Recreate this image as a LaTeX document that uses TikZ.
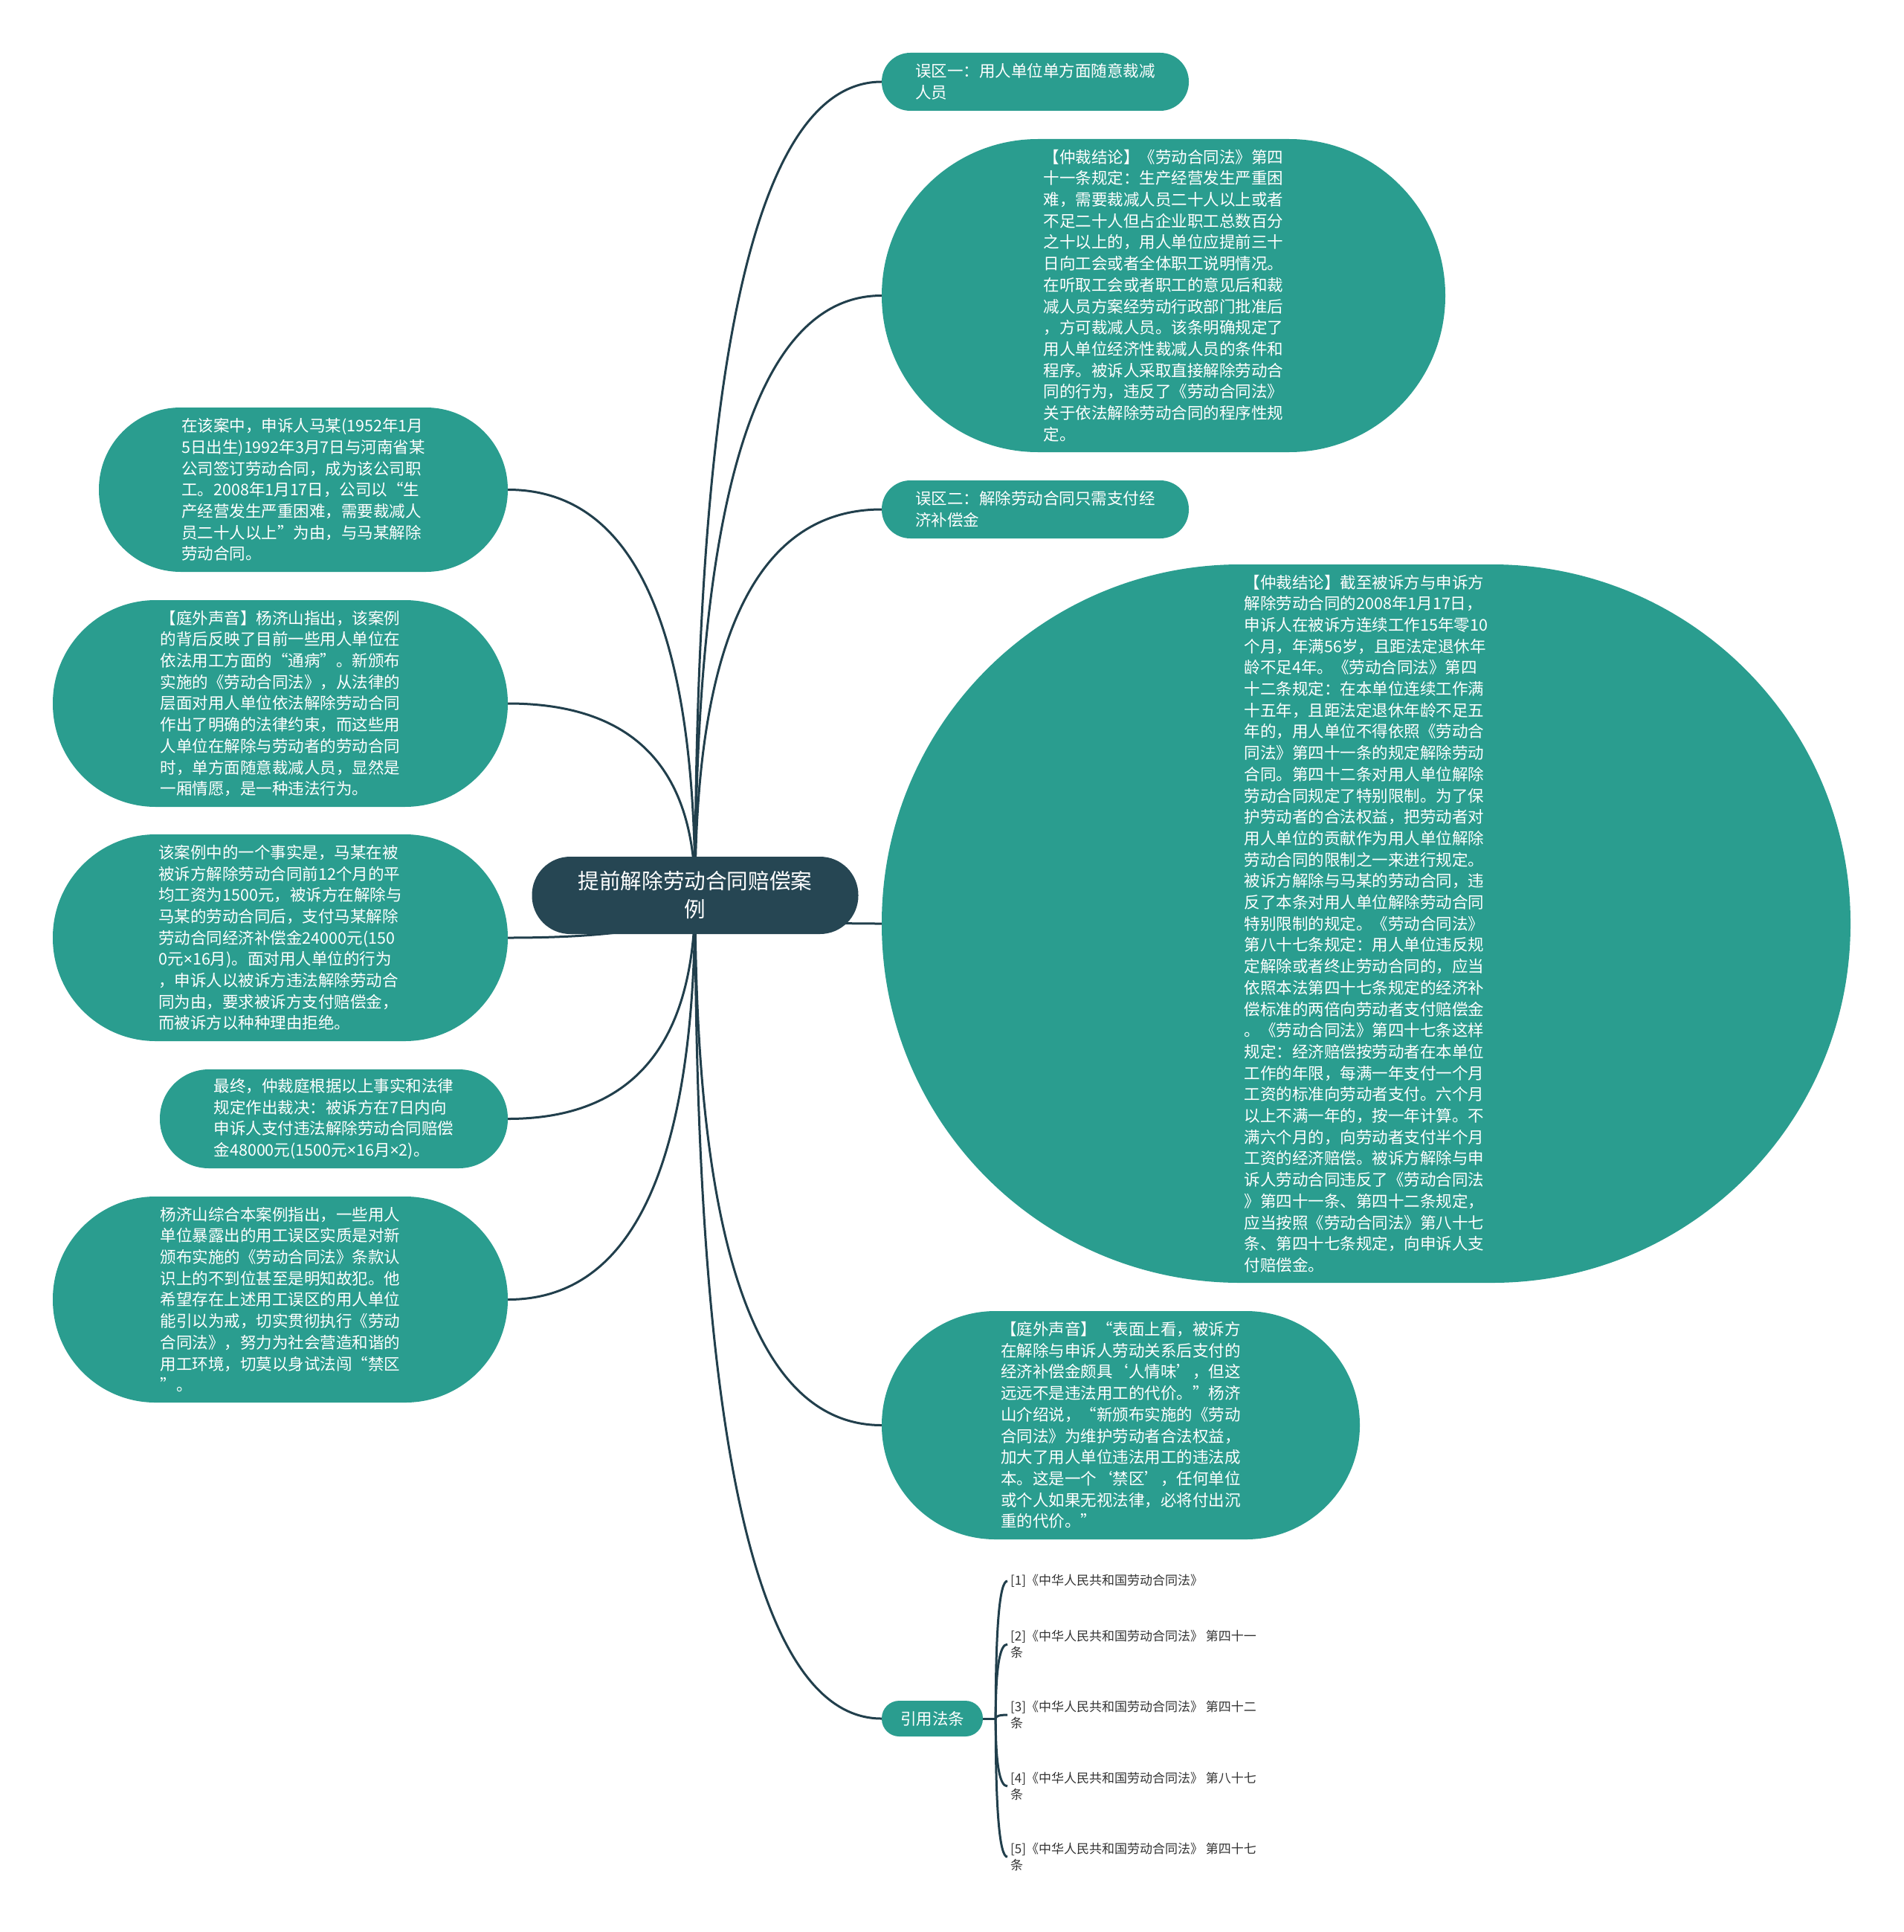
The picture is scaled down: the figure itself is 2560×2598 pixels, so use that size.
\documentclass[tikz,border=0pt]{standalone}
\usepackage{fontspec}
\newfontfamily\cjk{Noto Sans CJK SC}
\newfontfamily\latin{Noto Sans}
\usepackage{tikz}
\usetikzlibrary{positioning, calc, backgrounds}
\definecolor{RootSlate}{HTML}{264653}
\definecolor{NoteTeal}{HTML}{2A9D8F}
\definecolor{LinkSlate}{HTML}{213F4C}
\definecolor{CiteGray}{HTML}{333333}
\newcommand{\mul}{{\latin ×}}
\tikzset{
  % Box styles
  rootbox/.style={rectangle, fill=RootSlate, text=white, font=\cjk\fontsize{28.6}{38}\selectfont, align=center, inner sep=0pt},
  notebox/.style={rectangle, fill=NoteTeal, text=white, font=\cjk\fontsize{21.5}{28.7}\selectfont, align=left, inner sep=0pt},
  citetext/.style={anchor=west, inner sep=0pt, text=CiteGray, font=\cjk\fontsize{17}{21.7}\selectfont, align=left},
  % Connector styles
  branch/.style={draw=LinkSlate, line width=3pt, to path={.. controls ($(\tikztostart)!0.667!(\tikztostart |- \tikztotarget)$) and ($(\tikztotarget)!0.667!(\tikztostart |- \tikztotarget)$) .. (\tikztotarget)}}
}

\begin{document}
\begin{tikzpicture}[x=1pt, y=-1pt]
  \useasboundingbox (0,0) rectangle (2560,2598);

  % Central topic
  \node[rootbox, minimum width=439pt, minimum height=104pt, rounded corners=51.5pt] (root) at (935,1204) {提前解除劳动合同赔偿案\\例};

  % Right side
  \node[notebox, minimum width=413pt, minimum height=78pt, rounded corners=38.5pt] (myth1) at (1392.5,110) {误区一：用人单位单方面随意裁减\\人员};
  \node[notebox, minimum width=758pt, minimum height=421pt, rounded corners=210pt] (ruling1) at (1565,397.5) {【仲裁结论】《劳动合同法》第四\\十一条规定：生产经营发生严重困\\难，需要裁减人员二十人以上或者\\不足二十人但占企业职工总数百分\\之十以上的，用人单位应提前三十\\日向工会或者全体职工说明情况。\\在听取工会或者职工的意见后和裁\\减人员方案经劳动行政部门批准后\\，方可裁减人员。该条明确规定了\\用人单位经济性裁减人员的条件和\\程序。被诉人采取直接解除劳动合\\同的行为，违反了《劳动合同法》\\关于依法解除劳动合同的程序性规\\定。};
  \node[notebox, minimum width=413pt, minimum height=78pt, rounded corners=38.5pt] (myth2) at (1392.5,685) {误区二：解除劳动合同只需支付经\\济补偿金};
  \node[notebox, minimum width=1303pt, minimum height=966pt, rounded corners=482pt] (ruling2) at (1837.5,1242) {【仲裁结论】截至被诉方与申诉方\\解除劳动合同的2008年1月17日，\\申诉人在被诉方连续工作15年零10\\个月，年满56岁，且距法定退休年\\龄不足4年。《劳动合同法》第四\\十二条规定：在本单位连续工作满\\十五年，且距法定退休年龄不足五\\年的，用人单位不得依照《劳动合\\同法》第四十一条的规定解除劳动\\合同。第四十二条对用人单位解除\\劳动合同规定了特别限制。为了保\\护劳动者的合法权益，把劳动者对\\用人单位的贡献作为用人单位解除\\劳动合同的限制之一来进行规定。\\被诉方解除与马某的劳动合同，违\\反了本条对用人单位解除劳动合同\\特别限制的规定。《劳动合同法》\\第八十七条规定：用人单位违反规\\定解除或者终止劳动合同的，应当\\依照本法第四十七条规定的经济补\\偿标准的两倍向劳动者支付赔偿金\\。《劳动合同法》第四十七条这样\\规定：经济赔偿按劳动者在本单位\\工作的年限，每满一年支付一个月\\工资的标准向劳动者支付。六个月\\以上不满一年的，按一年计算。不\\满六个月的，向劳动者支付半个月\\工资的经济赔偿。被诉方解除与申\\诉人劳动合同违反了《劳动合同法\\》第四十一条、第四十二条规定，\\应当按照《劳动合同法》第八十七\\条、第四十七条规定，向申诉人支\\付赔偿金。};
  \node[notebox, minimum width=643pt, minimum height=307pt, rounded corners=153pt] (voice2) at (1507.5,1916.5) {【庭外声音】“表面上看，被诉方\\在解除与申诉人劳动关系后支付的\\经济补偿金颇具‘人情味’，但这\\远远不是违法用工的代价。”杨济\\山介绍说，“新颁布实施的《劳动\\合同法》为维护劳动者合法权益，\\加大了用人单位违法用工的违法成\\本。这是一个‘禁区’，任何单位\\或个人如果无视法律，必将付出沉\\重的代价。”};
  \node[notebox, minimum width=136pt, minimum height=48pt, rounded corners=23.5pt, align=center] (laws) at (1254,2311) {引用法条};

  % Left side
  \node[notebox, minimum width=550pt, minimum height=221pt, rounded corners=110pt] (facts) at (408,658.5) {在该案中，申诉人马某(1952年1月\\5日出生)1992年3月7日与河南省某\\公司签订劳动合同，成为该公司职\\工。2008年1月17日，公司以“生\\产经营发生严重困难，需要裁减人\\员二十人以上”为由，与马某解除\\劳动合同。};
  \node[notebox, minimum width=612pt, minimum height=278pt, rounded corners=138.5pt] (voice1) at (377,946) {【庭外声音】杨济山指出，该案例\\的背后反映了目前一些用人单位在\\依法用工方面的“通病”。新颁布\\实施的《劳动合同法》，从法律的\\层面对用人单位依法解除劳动合同\\作出了明确的法律约束，而这些用\\人单位在解除与劳动者的劳动合同\\时，单方面随意裁减人员，显然是\\一厢情愿，是一种违法行为。};
  \node[notebox, minimum width=612pt, minimum height=278pt, rounded corners=138.5pt] (wages) at (377,1261) {该案例中的一个事实是，马某在被\\被诉方解除劳动合同前12个月的平\\均工资为1500元，被诉方在解除与\\马某的劳动合同后，支付马某解除\\劳动合同经济补偿金24000元(150\\0元\mul16月)。面对用人单位的行为\\，申诉人以被诉方违法解除劳动合\\同为由，要求被诉方支付赔偿金，\\而被诉方以种种理由拒绝。};
  \node[notebox, minimum width=468pt, minimum height=133pt, rounded corners=66pt] (award) at (449,1504.5) {最终，仲裁庭根据以上事实和法律\\规定作出裁决：被诉方在7日内向\\申诉人支付违法解除劳动合同赔偿\\金48000元(1500元\mul16月\mul2)。};
  \node[notebox, minimum width=612pt, minimum height=277pt, rounded corners=138pt] (advice) at (377,1747.5) {杨济山综合本案例指出，一些用人\\单位暴露出的用工误区实质是对新\\颁布实施的《劳动合同法》条款认\\识上的不到位甚至是明知故犯。他\\希望存在上述用工误区的用人单位\\能引以为戒，切实贯彻执行《劳动\\合同法》，努力为社会营造和谐的\\用工环境，切莫以身试法闯“禁区\\”。};

  % Cited articles
  \coordinate[right=17pt of laws] (lawjoint);
  \node[citetext] (cite1) at (1359,2126) {[1]《中华人民共和国劳动合同法》};
  \node[citetext] (cite2) at (1359,2211) {[2]《中华人民共和国劳动合同法》 第四十一\\条};
  \node[citetext] (cite3) at (1359,2306) {[3]《中华人民共和国劳动合同法》 第四十二\\条};
  \node[citetext] (cite4) at (1359,2402) {[4]《中华人民共和国劳动合同法》 第八十七\\条};
  \node[citetext] (cite5) at (1359,2497) {[5]《中华人民共和国劳动合同法》 第四十七\\条};

  % Connectors
  \begin{scope}[on background layer]
    \draw[branch] (root.center) to (myth1.west);
    \draw[branch] (root.center) to (ruling1.west);
    \draw[branch] (root.center) to (myth2.west);
    \draw[branch] (root.center) to (ruling2.west);
    \draw[branch] (root.center) to (voice2.west);
    \draw[branch] (root.center) to (laws.west);
    \draw[branch] (root.center) to (facts.east);
    \draw[branch] (root.center) to (voice1.east);
    \draw[branch] (root.center) to (wages.east);
    \draw[branch] (root.center) to (award.east);
    \draw[branch] (root.center) to (advice.east);
    \draw[branch] (laws.east) -- (lawjoint);
    \draw[branch] (lawjoint) to ([xshift=-4pt]cite1.west);
    \draw[branch] (lawjoint) to ([xshift=-4pt]cite2.west);
    \draw[branch] (lawjoint) to ([xshift=-4pt]cite3.west);
    \draw[branch] (lawjoint) to ([xshift=-4pt]cite4.west);
    \draw[branch] (lawjoint) to ([xshift=-4pt]cite5.west);
  \end{scope}
\end{tikzpicture}
\end{document}
